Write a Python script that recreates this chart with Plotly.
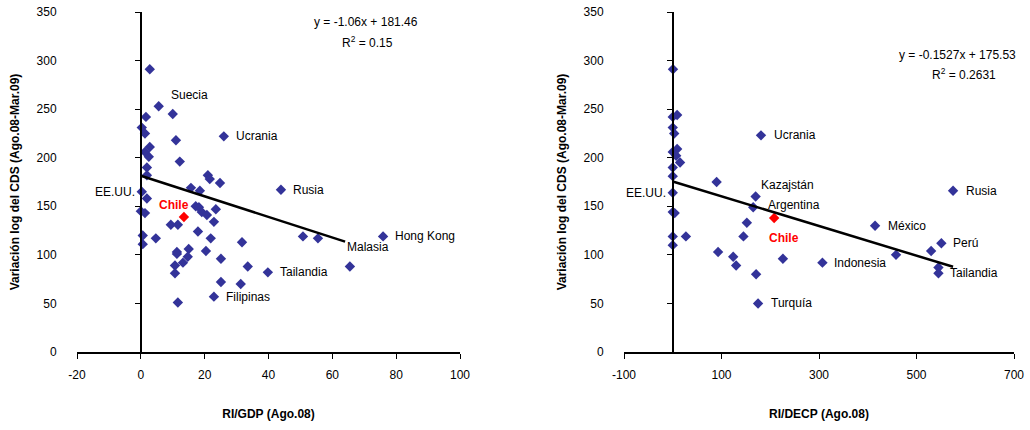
import plotly.graph_objects as go

# ---------------- data ----------------
# Left panel: RI/GDP (Ago.08) vs variación log del CDS
gdp_x = [2.8, 5.6, 10.0, 1.6, 0.3, 1.3, 11.0, 26.0, 2.8, 1.3, 2.5, 12.2, 1.9, 1.9,
         21.0, 21.6, 24.8, 43.9, 15.7, 18.5, 0.3, 1.9, 17.2, 18.2, 19.1, 20.7, 23.5,
         22.9, 0.0, 1.3, 9.4, 11.6, 17.9, 0.6, 4.7, 0.6, 21.9, 31.7, 11.3, 11.3, 15.0,
         14.7, 20.4, 25.1, 13.2, 10.7, 33.5, 39.8, 10.7, 25.1, 31.3, 22.9, 11.6, 50.8,
         55.5, 75.9, 65.5]
gdp_y = [291, 253, 245, 242, 231, 225, 218, 222, 211, 206, 201, 196, 190, 182,
         182, 178, 174, 167, 169, 166, 165, 158, 150, 149, 144, 141, 147,
         134, 145, 143, 131, 131, 124, 120, 117, 111, 117, 113, 103, 101, 106,
         98, 104, 96, 92, 89, 88, 82, 81, 72, 70, 57, 51, 119,
         117, 119, 88]
gdp_chile = (13.5, 139)
gdp_trend = {"slope": -1.06, "intercept": 181.46, "r2": 0.15, "xmin": 0, "xmax": 64}

# Right panel: RI/DECP (Ago.08)
decp_x = [0.5, 0, 9, 0, 3, 0, 9, 7, 15, 0, 0, 90, 0, 0, 4, 0, 27, 0, 93, 124, 130,
          171, 175, 145, 152, 165, 170, 181, 226, 307, 415, 458, 530, 551, 545, 545, 575]
decp_y = [291, 242, 244, 231, 225, 206, 209, 202, 195, 190, 181, 175, 164, 144, 143,
          119, 119, 110, 103, 98, 89, 80, 50, 119, 133, 149, 160, 223, 96, 92, 130,
          100, 104, 112, 87, 81, 166]
decp_chile = (208, 138)
decp_trend = {"slope": -0.1527, "intercept": 175.53, "r2": 0.2631, "xmin": 0, "xmax": 575}

# labelled points: (index, text, xshift, yshift, xanchor)
gdp_labels = [(1, "Suecia", 10, 11, "left"), (7, "Ucrania", 10, 0, "left"),
              (17, "Rusia", 10, 0, "left"), (55, "Hong Kong", 10, 0, "left"),
              (54, "Malasia", 27, -9, "left"), (47, "Tailandia", 10, 0, "left"),
              (51, "Filipinas", 10, 0, "left"), (20, "EE.UU.", -5, 0, "right")]
decp_labels = [(27, "Ucrania", 11, 0, "left"), (26, "Kazajstán", 3, 12, "left"),
               (25, "Argentina", 13, 2, "left"), (30, "México", 11, 0, "left"),
               (36, "Rusia", 11, 0, "left"), (33, "Perú", 10, 0, "left"),
               (29, "Indonesia", 10, 0, "left"), (35, "Tailandia", 10, 0, "left"),
               (22, "Turquía", 11, 0, "left"), (12, "EE.UU.", -5, 0, "right")]

y_ticks = [0, 50, 100, 150, 200, 250, 300, 350]
gdp_ticks = [-20, 0, 20, 40, 60, 80, 100]
decp_ticks = [-100, 100, 300, 500, 700]

# ---------------- style ----------------
FONT = "Liberation Sans, Arial, sans-serif"
BLUE = "#333399"
W, H = 1030, 430
left_dom = [77 / W, 460 / W]
right_dom = [624 / W, 1014 / W]
ydom = [1 - 352 / H, 1 - 12 / H]
gdp_range = [-20, 100]
decp_range = [-100, 700]

def zero_pos(dom, rng):
    return dom[0] + (0 - rng[0]) / (rng[1] - rng[0]) * (dom[1] - dom[0])

fig = go.Figure()

# scatter points
fig.add_trace(go.Scatter(x=gdp_x, y=gdp_y, mode="markers", xaxis="x", yaxis="y",
                         marker=dict(symbol="diamond", size=8, color=BLUE), showlegend=False))
fig.add_trace(go.Scatter(x=[gdp_chile[0]], y=[gdp_chile[1]], mode="markers", xaxis="x", yaxis="y",
                         marker=dict(symbol="diamond", size=8, color="#ff0000"), showlegend=False))
fig.add_trace(go.Scatter(x=decp_x, y=decp_y, mode="markers", xaxis="x2", yaxis="y2",
                         marker=dict(symbol="diamond", size=8, color=BLUE), showlegend=False))
fig.add_trace(go.Scatter(x=[decp_chile[0]], y=[decp_chile[1]], mode="markers", xaxis="x2", yaxis="y2",
                         marker=dict(symbol="diamond", size=8, color="#ff0000"), showlegend=False))

# trend lines (on overlay axes that carry the axis line at x = 0)
for tr, xa, ya in [(gdp_trend, "x", "y3"), (decp_trend, "x2", "y4")]:
    xs = [tr["xmin"], tr["xmax"]]
    ys = [tr["slope"] * v + tr["intercept"] for v in xs]
    fig.add_trace(go.Scatter(x=xs, y=ys, mode="lines", xaxis=xa, yaxis=ya,
                             line=dict(color="black", width=2.5), showlegend=False,
                             hoverinfo="skip"))

ann = []
def add_labels(labels, xs, ys, xref, yref):
    for i, t, dx, dy, anc in labels:
        ann.append(dict(x=xs[i], y=ys[i], xref=xref, yref=yref, text=t, showarrow=False,
                        xanchor=anc, yanchor="middle", xshift=dx, yshift=dy,
                        font=dict(family=FONT, size=12, color="black")))

add_labels(gdp_labels, gdp_x, gdp_y, "x", "y")
add_labels(decp_labels, decp_x, decp_y, "x2", "y2")
ann.append(dict(x=gdp_chile[0], y=gdp_chile[1], xref="x", yref="y", text="<b>Chile</b>",
                showarrow=False, xshift=-10, yshift=12, xanchor="center",
                font=dict(family=FONT, size=12, color="#ff0000")))
ann.append(dict(x=decp_chile[0], y=decp_chile[1], xref="x2", yref="y2", text="<b>Chile</b>",
                showarrow=False, xshift=10, yshift=-20, xanchor="center",
                font=dict(family=FONT, size=12, color="#ff0000")))

def eq_text(tr, fmt):
    s = ("y = " + fmt + "x + " + "{:.2f}").format(tr["slope"], tr["intercept"])
    return s

ann += [
    dict(x=366 / W, y=1 - 13 / H, xref="paper", yref="paper", showarrow=False, xanchor="center",
         text=eq_text(gdp_trend, "{:.2f}"), font=dict(family=FONT, size=12, color="black")),
    dict(x=367 / W, y=1 - 32 / H, xref="paper", yref="paper", showarrow=False, xanchor="center",
         text="R<sup>2</sup> = {:.2f}".format(gdp_trend["r2"]), font=dict(family=FONT, size=12, color="black")),
    dict(x=957 / W, y=1 - 46 / H, xref="paper", yref="paper", showarrow=False, xanchor="center",
         text=eq_text(decp_trend, "{:.4f}"), font=dict(family=FONT, size=12, color="black")),
    dict(x=964 / W, y=1 - 64 / H, xref="paper", yref="paper", showarrow=False, xanchor="center",
         text="R<sup>2</sup> = {:.4f}".format(decp_trend["r2"]), font=dict(family=FONT, size=12, color="black")),
]

tickfont = dict(family=FONT, size=12, color="black")
titlefont = dict(family=FONT, size=12, color="black")

def xaxis(dom, rng, ticks, title, anchor):
    return dict(domain=dom, range=rng, anchor=anchor, tickvals=ticks,
                ticktext=[str(v) for v in ticks], showgrid=False,
                zeroline=False, showline=True, linecolor="black", linewidth=1.5,
                ticks="outside", ticklen=5, tickcolor="black", tickwidth=1,
                ticklabelstandoff=6, tickfont=tickfont, automargin=False,
                title=dict(text="<b>" + title + "</b>", font=titlefont, standoff=28))

def yaxis_main(anchor):
    return dict(domain=ydom, range=[0, 350], anchor=anchor, tickvals=y_ticks, showgrid=False,
                zeroline=False, showline=False, ticks="outside", ticklen=17,
                tickcolor="rgba(0,0,0,0)", tickfont=tickfont, automargin=False,
                title=dict(text="<b>Variación log del CDS (Ago.08-Mar.09)</b>", font=titlefont,
                           standoff=14))

def yaxis_zero(over, pos):
    return dict(overlaying=over, anchor="free", position=pos, range=[0, 350], domain=ydom,
                tickvals=y_ticks, showticklabels=False, showgrid=False, zeroline=False,
                showline=True, linecolor="black", linewidth=1.5, ticks="outside", ticklen=5,
                tickcolor="black", tickwidth=1, automargin=False)

fig.update_layout(
    width=W, height=H,
    margin=dict(l=0, r=0, t=0, b=0, autoexpand=False),
    paper_bgcolor="white", plot_bgcolor="white",
    font=dict(family=FONT, size=12, color="black"),
    showlegend=False,
    xaxis=xaxis(left_dom, gdp_range, gdp_ticks, "RI/GDP (Ago.08)", "y"),
    xaxis2=xaxis(right_dom, decp_range, decp_ticks, "RI/DECP (Ago.08)", "y2"),
    yaxis=yaxis_main("x"),
    yaxis2=yaxis_main("x2"),
    yaxis3=yaxis_zero("y", zero_pos(left_dom, gdp_range)),
    yaxis4=yaxis_zero("y2", zero_pos(right_dom, decp_range)),
    annotations=ann,
)

fig.write_html("out.html", config={"displayModeBar": False},
               post_script="document.body.style.margin='0px';document.body.style.overflow='hidden';")
